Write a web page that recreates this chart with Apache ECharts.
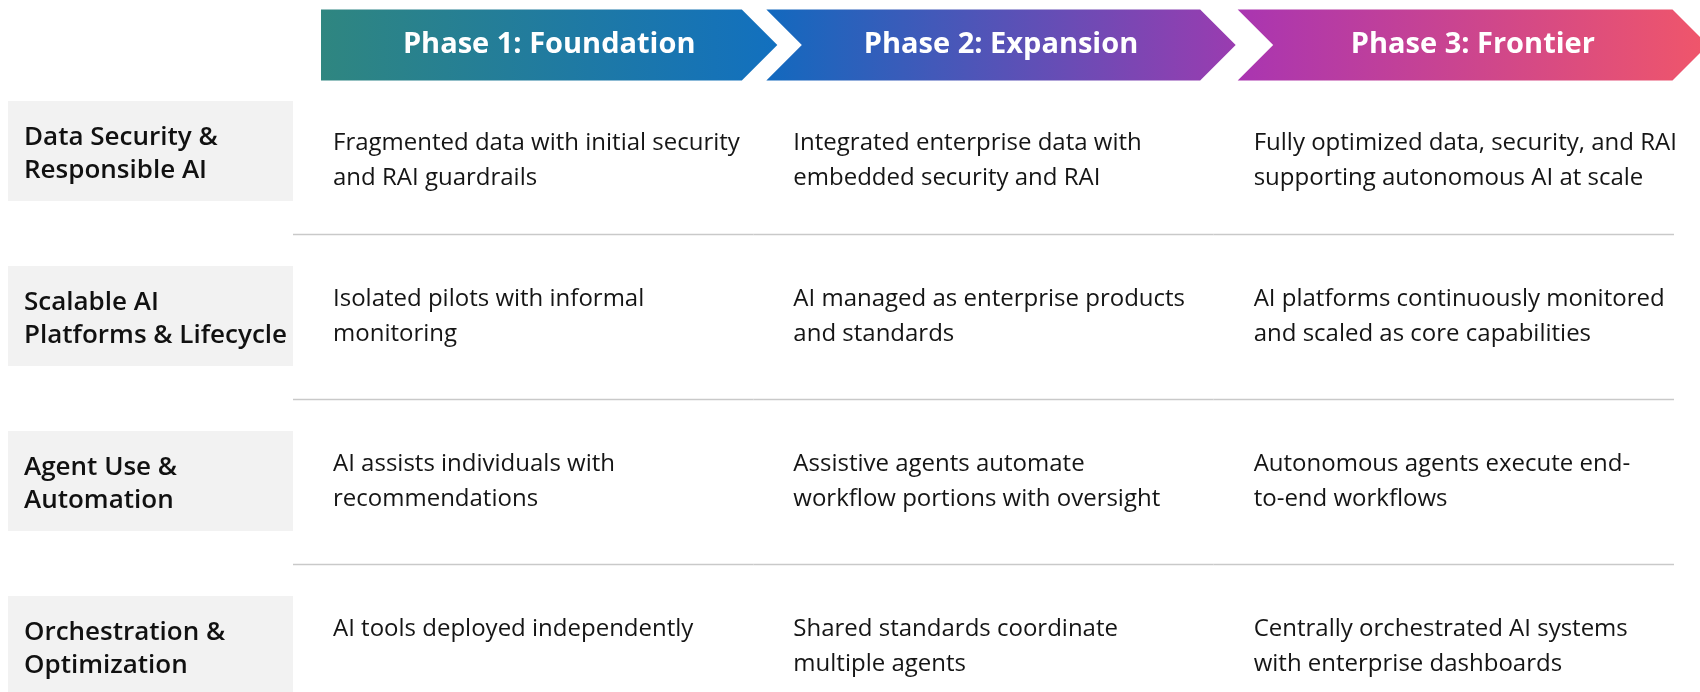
<!DOCTYPE html>
<html>
<head>
<meta charset="utf-8">
<script src="https://cdn.jsdelivr.net/npm/echarts@6/dist/echarts.min.js"></script>
<style>
html,body{margin:0;padding:0;background:#ffffff;}
#c{width:1700px;height:692px;}
</style>
</head>
<body>
<div id="c"></div>
<script>
// ---- data ----
const phases = ['Phase 1: Foundation', 'Phase 2: Expansion', 'Phase 3: Frontier'];
const rowLabels = [
  'Data Security &\nResponsible AI',
  'Scalable AI\nPlatforms & Lifecycle',
  'Agent Use &\nAutomation',
  'Orchestration &\nOptimization'
];
const phase1Cells = [
  'Fragmented data with initial security\nand RAI guardrails',
  'Isolated pilots with informal\nmonitoring',
  'AI assists individuals with\nrecommendations',
  'AI tools deployed independently'
];
const phase2Cells = [
  'Integrated enterprise data with\nembedded security and RAI',
  'AI managed as enterprise products\nand standards',
  'Assistive agents automate\nworkflow portions with oversight',
  'Shared standards coordinate\nmultiple agents'
];
const phase3Cells = [
  'Fully optimized data, security, and RAI\nsupporting autonomous AI at scale',
  'AI platforms continuously monitored\nand scaled as core capabilities',
  'Autonomous agents execute end-\nto-end workflows',
  'Centrally orchestrated AI systems\nwith enterprise dashboards'
];

// ---- styles ----
const phaseGradients = [
  ['#2f8680', '#1270bf'],
  ['#1269be', '#9a3cb0'],
  ['#a935b1', '#f0566a']
];
const bannerLeftInset = [28, 13, 24];
const bannerRightOut = [24, 22, 34];
const cellRowShift = [9, 0, 0, 0];
const FONT = '"Open Sans", "Noto Sans", sans-serif';

const chart = echarts.init(document.getElementById('c'), null, {renderer: 'canvas'});

const labelData = rowLabels.map((t, r) => [0, r]);
const cellColumns = [phase1Cells, phase2Cells, phase3Cells];
const cellData = [];
cellColumns.forEach((col, c) => col.forEach((t, r) => cellData.push([c, r])));
const headerData = phases.map((t, i) => [i, 0]);

// row axis: 165px per row, row 0 centred at y=151
const ROW_MIN = -0.5;
const ROW_MAX = -0.5 + 623.5 / 165;

const option = {
  animation: false,
  backgroundColor: '#ffffff',
  grid: [
    {left: 8, width: 285, top: 68.5, bottom: 0},
    {left: 293, width: 1381, top: 68.5, bottom: 0},
    {left: 293, width: 1381, top: 9.5, height: 71}
  ],
  xAxis: [
    {gridIndex: 0, type: 'category', data: ['label'], show: false},
    {gridIndex: 1, type: 'category', data: phases, show: false},
    {gridIndex: 2, type: 'category', data: phases, show: false}
  ],
  yAxis: [
    {gridIndex: 0, type: 'value', min: ROW_MIN, max: ROW_MAX, inverse: true, show: false},
    {gridIndex: 1, type: 'value', min: ROW_MIN, max: ROW_MAX, inverse: true, show: false},
    {gridIndex: 2, type: 'category', data: ['header'], show: false}
  ],
  series: [
    {
      type: 'custom',
      xAxisIndex: 0, yAxisIndex: 0,
      data: labelData,
      silent: true,
      renderItem: function (params, api) {
        const r = api.value(1);
        const p = api.coord([0, r]);
        const cs = params.coordSys;
        const h = 100;
        return {
          type: 'group',
          children: [
            {type: 'rect', shape: {x: cs.x, y: p[1] - h / 2, width: cs.width, height: h}, style: {fill: '#f2f2f2'}},
            {type: 'text', x: cs.x + 16, y: p[1] + 3,
              style: {text: rowLabels[r], fill: '#111111', fontFamily: FONT, fontSize: 26, fontWeight: 600,
                lineHeight: 33, align: 'left', verticalAlign: 'middle'}}
          ]
        };
      }
    },
    {
      type: 'custom',
      xAxisIndex: 1, yAxisIndex: 1,
      data: cellData,
      silent: true,
      renderItem: function (params, api) {
        const c = api.value(0), r = api.value(1);
        const p = api.coord([c, r]);
        const sz = api.size([1, 1]);
        const left = p[0] - sz[0] / 2;
        const lh = 35;
        const children = [
          {type: 'text', x: left + 40, y: p[1] - 34 + cellRowShift[r],
            style: {text: cellColumns[c][r], fill: '#151515', fontFamily: FONT, fontSize: 24, fontWeight: 400,
              lineHeight: lh, align: 'left', verticalAlign: 'top'}}
        ];
        if (r < rowLabels.length - 1) {
          const y = Math.round(p[1] + sz[1] / 2) + 0.5;
          children.push({type: 'line', shape: {x1: left, y1: y, x2: left + sz[0], y2: y},
            style: {stroke: '#c9c9c9', lineWidth: 1.5}});
        }
        return {type: 'group', children: children};
      }
    },
    {
      type: 'custom',
      xAxisIndex: 2, yAxisIndex: 2,
      data: headerData,
      silent: true,
      renderItem: function (params, api) {
        const i = api.value(0);
        const p = api.coord([i, 0]);
        const bw = api.size([1, 0])[0];
        const cs = params.coordSys;
        const top = cs.y, bot = cs.y + cs.height, mid = cs.y + cs.height / 2;
        const n = cs.height / 2;
        const L = p[0] - bw / 2 + bannerLeftInset[i];
        const R = p[0] + bw / 2 + bannerRightOut[i];
        const pts = i === 0
          ? [[L, top], [R - n, top], [R, mid], [R - n, bot], [L, bot]]
          : [[L, top], [R - n, top], [R, mid], [R - n, bot], [L, bot], [L + n, mid]];
        const g = phaseGradients[i];
        return {
          type: 'group',
          children: [
            {type: 'polygon', shape: {points: pts},
              style: {fill: new echarts.graphic.LinearGradient(0, 0, 1, 0, [
                {offset: 0, color: g[0]}, {offset: 1, color: g[1]}])}},
            {type: 'text', x: (L + R) / 2, y: mid,
              style: {text: phases[i], fill: '#ffffff', fontFamily: FONT, fontSize: 29, fontWeight: 700,
                align: 'center', verticalAlign: 'middle'}}
          ]
        };
      }
    }
  ]
};
chart.setOption(option);
</script>
</body>
</html>
